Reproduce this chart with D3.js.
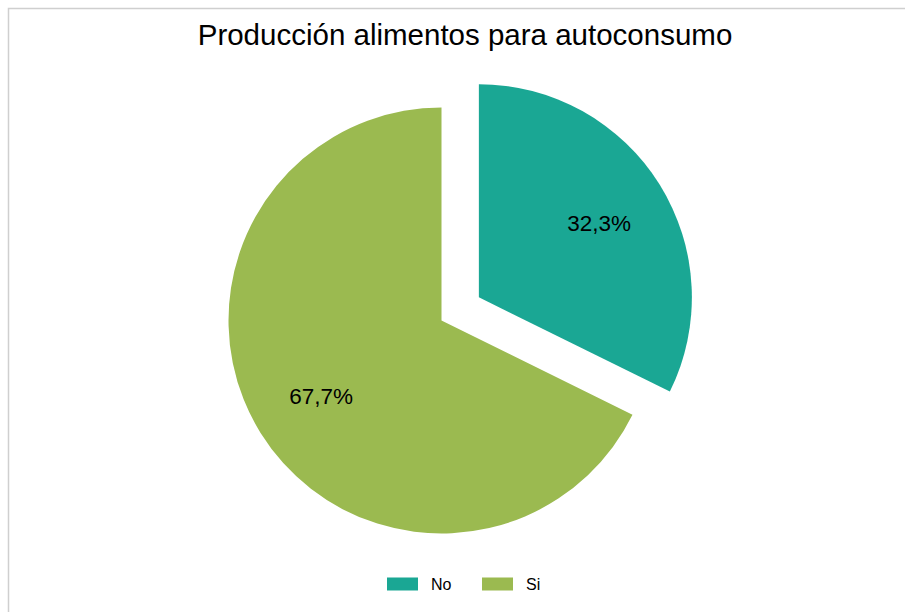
<!DOCTYPE html>
<html>
<head>
<meta charset="utf-8">
<script src="https://cdn.jsdelivr.net/npm/d3@7"></script>
<style>
  html, body { margin: 0; padding: 0; background: #ffffff; }
  svg { display: block; font-family: "Liberation Sans", Arial, sans-serif; }
</style>
</head>
<body>
<svg id="chart" width="905" height="612"></svg>
<script>
// Data
const categories = ["No", "Si"];
const shares = [32.3, 67.7];
const colors = ["#1AA794", "#9BBA50"];
const explodedIndex = 0;
const title = "Producción alimentos para autoconsumo";

const svg = d3.select("#chart");
const width = 905, height = 612;

// Frame (open at right and bottom, as it runs past the page)
svg.append("path")
  .attr("d", "M8.5,640 L8.5,8.5 L920,8.5")
  .attr("fill", "none")
  .attr("stroke", "#cfcfcf")
  .attr("stroke-width", 1.5);

// Title
svg.append("text")
  .attr("x", 465)
  .attr("y", 45)
  .attr("text-anchor", "middle")
  .attr("font-size", 29.5)
  .attr("fill", "#000")
  .text(title);

// Pie
const cx = 441.5, cy = 320.5, radius = 213, explode = 44;
const data = categories.map((c, i) => ({ cat: c, value: shares[i], color: colors[i] }));
const pie = d3.pie().value(d => d.value).sort(null);
const arcs = pie(data);
const arc = d3.arc().innerRadius(0).outerRadius(radius);
const labelArc = d3.arc().innerRadius(radius * 0.665).outerRadius(radius * 0.665);

const g = svg.append("g").attr("transform", `translate(${cx},${cy})`);

const slices = g.selectAll("g.slice")
  .data(arcs)
  .enter().append("g")
  .attr("class", "slice")
  .attr("transform", (d, i) => {
    if (i !== explodedIndex) return null;
    const mid = (d.startAngle + d.endAngle) / 2;
    return `translate(${Math.sin(mid) * explode},${-Math.cos(mid) * explode})`;
  });

slices.append("path")
  .attr("d", arc)
  .attr("fill", d => d.data.color);

slices.append("text")
  .attr("transform", d => `translate(${labelArc.centroid(d)})`)
  .attr("text-anchor", "middle")
  .attr("dy", "0.38em")
  .attr("font-size", 22.5)
  .attr("fill", "#000")
  .text(d => d.data.value.toFixed(1).replace(".", ",") + "%");

// Legend
const legendX = [387, 482];
const legend = svg.append("g");
data.forEach((d, i) => {
  legend.append("rect")
    .attr("x", legendX[i])
    .attr("y", 577.5)
    .attr("width", 31)
    .attr("height", 13)
    .attr("fill", d.color);
  legend.append("text")
    .attr("x", legendX[i] + 44)
    .attr("y", 584)
    .attr("dy", "0.35em")
    .attr("font-size", 16)
    .attr("fill", "#000")
    .text(d.cat);
});
</script>
</body>
</html>
